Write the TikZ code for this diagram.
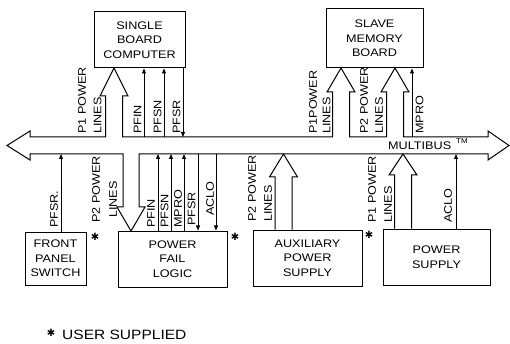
\documentclass[tikz,border=0pt]{standalone}
\usepackage{fontspec}
\setmainfont{Liberation Sans}[FakeStretch=1.15]
\newfontfamily\symf{DejaVu Sans}
\usetikzlibrary{arrows.meta}
\begin{document}
\begin{tikzpicture}[x=1pt,y=-1pt,
  box/.style={draw, line width=1pt, inner sep=0pt, align=center, font=\fontsize{11}{14.5}\selectfont},
  lbl/.style={rotate=90, anchor=west, inner sep=0pt, font=\fontsize{11}{13}\selectfont},
  tip/.style={-{Triangle[length=5pt,width=4pt]}, line width=0.9pt},
  fat/.style={line width=1pt, line join=miter},
  star/.style={inner sep=0pt, font=\symf\fontsize{10}{10}\selectfont}
]
\useasboundingbox (0,0) rectangle (510,344);

% boxes
\node[box, minimum width=91pt, minimum height=56pt] (sbc) at (139.5,40) {SINGLE\\BOARD\\COMPUTER};
\node[box, minimum width=97pt, minimum height=59pt] (smb) at (374.5,38.5) {SLAVE\\MEMORY\\BOARD};
\node[box, minimum width=61pt, minimum height=53pt] (fps) at (55.5,258.5) {FRONT\\PANEL\\SWITCH};
\node[box, minimum width=109pt, minimum height=56pt] (pfl) at (172.5,259) {POWER\\FAIL\\LOGIC};
\node[box, minimum width=109pt, minimum height=56pt] (aux) at (307.5,258) {AUXILIARY\\POWER\\SUPPLY};
\node[box, minimum width=107pt, minimum height=56pt] (ps) at (436.5,257) {POWER\\SUPPLY};

% bus reference lines
\coordinate (bt) at (0,137);
\coordinate (bb) at (0,154);

% bus outline with attached wide arrows
\draw[fat] (7,145.5) -- (30,131) -- (30,137)
  -- (105.5,137) -- (105.5,96) -- (100,96) -- (114,68) -- (128,96) -- (122.5,96) -- (122.5,137)
  -- (332.5,137) -- (332.5,92) -- (327,92) -- (341,68) -- (355,92) -- (349.5,92) -- (349.5,137)
  -- (386.5,137) -- (386.5,92) -- (381,92) -- (395,68) -- (409,92) -- (403.5,92) -- (403.5,137)
  -- (488,137) -- (488,131) -- (509,145.5) -- (488,160) -- (488,154)
  -- (139,154) -- (139,207) -- (145,207) -- (131,231) -- (117,207) -- (123,207) -- (123,154)
  -- (30,154) -- (30,160) -- cycle;

% wide arrows from supplies into the bus
\draw[fat] (aux.north -| 275,0) -- (275,177) -- (269.5,177) -- (283.5,154) -- (297.5,177) -- (292,177) -- (aux.north -| 292,0);
\draw[fat] (ps.north -| 394.5,0) -- (394.5,175) -- (389,175) -- (403,154) -- (417,175) -- (411.5,175) -- (ps.north -| 411.5,0);

% line positions
\coordinate (l1) at (144,0);
\coordinate (l2) at (164,0);
\coordinate (l3) at (183,0);
\coordinate (l4) at (412,0);
\coordinate (l5) at (61,0);
\coordinate (l6) at (158,0);
\coordinate (l7) at (171,0);
\coordinate (l8) at (184,0);
\coordinate (l9) at (198,0);
\coordinate (l10) at (216,0);
\coordinate (l11) at (456,0);

% thin signal lines
\draw[tip] (bt -| l1) -- (sbc.south -| l1);
\draw[tip] (bt -| l2) -- (sbc.south -| l2);
\draw[tip] (sbc.south -| l3) -- (bt -| l3);
\draw[tip] (bt -| l4) -- (smb.south -| l4);
\draw[tip] (fps.north -| l5) -- (bb -| l5);
\draw[tip] (pfl.north -| l6) -- (bb -| l6);
\draw[tip] (pfl.north -| l7) -- (bb -| l7);
\draw[tip] (pfl.north -| l8) -- (bb -| l8);
\draw[tip] (bb -| l9) -- (pfl.north -| l9);
\draw[tip] (bb -| l10) -- (pfl.north -| l10);
\draw[tip] (ps.north -| l11) -- (bb -| l11);

% labels (upper)
\node[lbl] (t1) at (82,134) {P1 POWER};
\node[lbl] (t2) at (97.5,134) {LINES};
\node[lbl] (t3) at (137.5,134) {PFIN};
\node[lbl] (t4) at (157.5,134) {PFSN};
\node[lbl] (t5) at (176.5,134) {PFSR};
\node[lbl] (t6) at (313,134) {P1POWER};
\node[lbl] (t7) at (326.5,134) {LINES};
\node[lbl] (t8) at (364,134) {P2 POWER};
\node[lbl] (t9) at (379,134) {LINES};
\node[lbl] (t10) at (419.5,134) {MPRO};

% labels (lower)
\node[lbl] (u1) at (54,228) {PFSR.};
\node[lbl] (u2) at (96,223) {P2 POWER};
\node[lbl] (u3) at (113,218) {LINES};
\node[lbl] (u4) at (151,228) {PFIN};
\node[lbl] (u5) at (164.5,228) {PFSN};
\node[lbl] (u6) at (178,228) {MPRO};
\node[lbl] (u7) at (191.5,226) {PFSR};
\node[lbl] (u8) at (210,216) {ACLO};
\node[lbl] (u9) at (252,222) {P2 POWER};
\node[lbl] (u10) at (268,222) {LINES};
\node[lbl] (u11) at (372,223) {P1 POWER};
\node[lbl] (u12) at (388,223) {LINES};
\node[lbl] (u13) at (448,223) {ACLO};

% bus name
\node[anchor=base west, inner sep=0pt, font=\fontsize{11}{13}\selectfont] (mb) at (388,149.5) {MULTIBUS};
\node[anchor=base west, inner sep=0pt, font=\fontsize{7}{7}\selectfont] (tm) at (456,143.5) {TM};

% user-supplied marks
\node[star] (s1) at (95,237) {✱};
\node[star] (s2) at (235,237) {✱};
\node[star] (s3) at (369,235) {✱};
\node[star] (s4) at (51,333) {✱};
\node[anchor=base west, inner sep=0pt, font=\fontsize{13.5}{15}\selectfont] (note) at (62,339) {USER SUPPLIED};
\end{tikzpicture}
\end{document}
